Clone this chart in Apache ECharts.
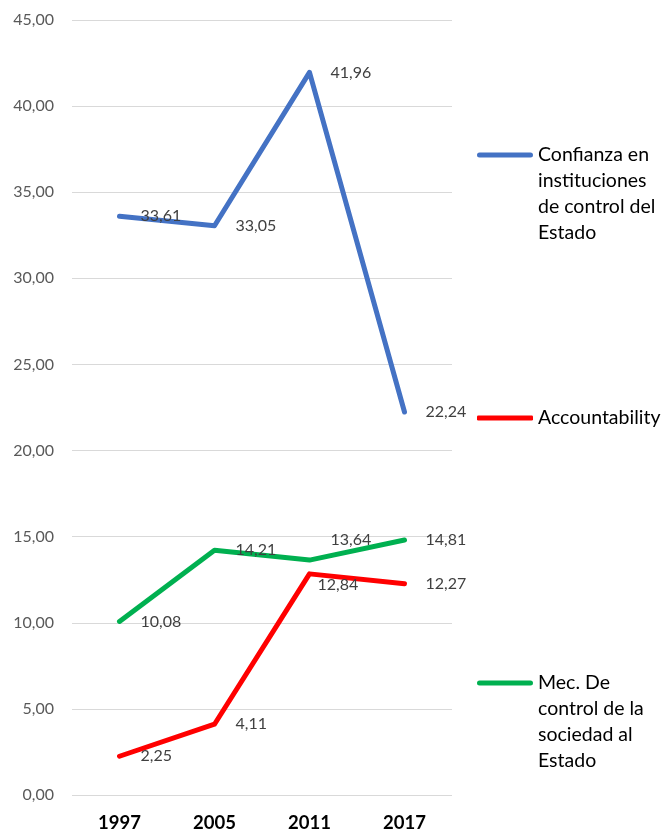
<!DOCTYPE html>
<html>
<head>
<meta charset="utf-8">
<style>
  html, body { margin: 0; padding: 0; background: #fff; }
  #chart { width: 662px; height: 833px; }
</style>
<script src="https://cdn.jsdelivr.net/npm/echarts@6/dist/echarts.min.js"></script>
</head>
<body>
<div id="chart"></div>
<script>
// Datos.
const years = ['1997', '2005', '2011', '2017'];
const confianza = [33.61, 33.05, 41.96, 22.24];
const accountability = [2.25, 4.11, 12.84, 12.27];
const mecanismos = [10.08, 14.21, 13.64, 14.81];
const yTicks = [0, 5, 10, 15, 20, 25, 30, 35, 40, 45];

const nameConfianza = 'Confianza en\ninstituciones\nde control del\nEstado';
const nameAccount = 'Accountability';
const nameMec = 'Mec. De\ncontrol de la\nsociedad al\nEstado';

// Desplazamientos manuales de etiquetas (como en el original).
const labelOffsets = {
  mec: { 2: [0, -20] },
  acc: { 2: [-13, 11] }
};

const FONT = 'Lato';
const LH = 26;
const fmt = v => v.toFixed(2).replace('.', ',');

// Barra redondeada arriba + punto invisible abajo: el icono queda
// alineado con la primera línea del texto de la leyenda.
function topBarIcon(h) {
  return 'path://M2.5,0 L53.5,0 A2.5,2.5 0 0 1 53.5,5 L2.5,5 A2.5,2.5 0 0 1 2.5,0 Z M0,' + h + ' L0,' + h + ' Z';
}

function buildData(values, key) {
  const offs = labelOffsets[key] || {};
  return values.map((v, i) => offs[i] ? { value: v, label: { offset: offs[i] } } : v);
}

function series(name, values, color, key) {
  return {
    name: name,
    type: 'line',
    data: buildData(values, key),
    symbol: 'circle',
    symbolSize: 2,
    itemStyle: { color: color },
    lineStyle: { color: color, width: 5, cap: 'round', join: 'round' },
    label: {
      show: true,
      position: 'right',
      distance: 20,
      color: '#404040',
      fontFamily: FONT,
      fontSize: 16,
      formatter: p => fmt(p.value)
    },
    emphasis: { disabled: true },
    animation: false
  };
}

function legend(name, iconY, lines) {
  const h = lines > 1 ? (lines - 1) * LH + 5 : 5;
  const blockTop = h / 2 - lines * LH / 2;
  return {
    data: [name],
    left: 477,
    top: iconY - 2.5 + Math.min(0, blockTop),
    padding: 0,
    selectedMode: false,
    icon: lines > 1 ? topBarIcon(h) : 'roundRect',
    itemWidth: 56,
    itemHeight: h,
    textStyle: {
      color: '#000',
      fontFamily: FONT,
      fontSize: 19.5,
      lineHeight: LH
    }
  };
}

const chart = echarts.init(document.getElementById('chart'), null, { renderer: 'canvas' });
chart.setOption({
  backgroundColor: '#fff',
  animation: false,
  grid: { left: 72, right: 210, top: 20, bottom: 37 },
  legend: [
    legend(nameConfianza, 155, 4),
    legend(nameAccount, 418, 1),
    legend(nameMec, 683, 4)
  ],
  xAxis: {
    type: 'category',
    data: years,
    boundaryGap: true,
    axisLine: { show: false },
    axisTick: { show: false },
    axisLabel: {
      margin: 19,
      color: '#000',
      fontFamily: FONT,
      fontSize: 18.5,
      fontWeight: 'bold'
    }
  },
  yAxis: {
    type: 'value',
    min: yTicks[0],
    max: yTicks[yTicks.length - 1],
    interval: 5,
    axisLine: { show: false },
    axisTick: { show: false },
    splitLine: { lineStyle: { color: '#d9d9d9', width: 1 } },
    axisLabel: {
      margin: 18,
      color: '#595959',
      fontFamily: FONT,
      fontSize: 16,
      formatter: v => fmt(v)
    }
  },
  series: [
    series(nameConfianza, confianza, '#4472C4', 'conf'),
    series(nameAccount, accountability, '#FF0000', 'acc'),
    series(nameMec, mecanismos, '#00B050', 'mec')
  ]
});
</script>
</body>
</html>
